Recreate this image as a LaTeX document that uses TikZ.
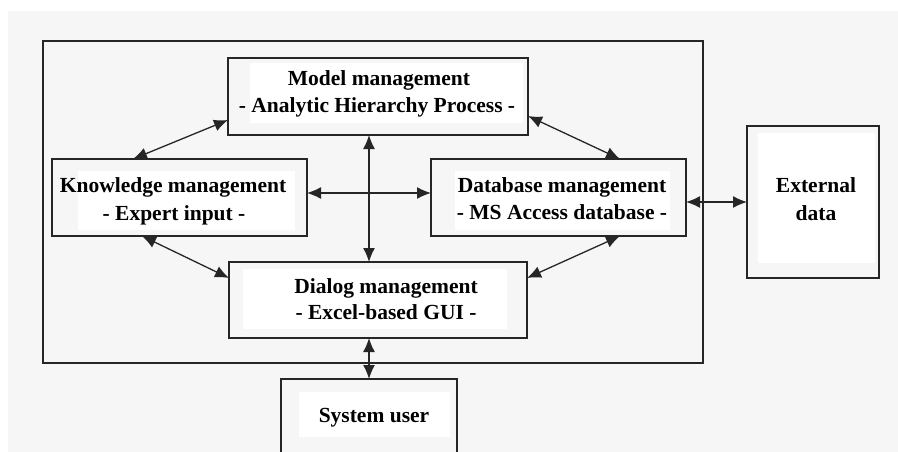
\documentclass[tikz,border=0pt]{standalone}
\usepackage{fontspec}
\setmainfont{Liberation Serif}
\usetikzlibrary{arrows.meta}
\definecolor{bg}{HTML}{F6F6F6}
\definecolor{ln}{HTML}{262626}
\begin{document}
\begin{tikzpicture}[x=1pt,y=-1pt,
  frm/.style={draw=ln, line width=1.2pt, inner sep=0, outer sep=0},
  box/.style={draw=ln, line width=1.4pt, fill=bg, inner sep=0, outer sep=0},
  pad/.style={fill=white, inner sep=0, outer sep=0},
  lbl/.style={anchor=base, font=\bfseries\fontsize{21.5}{27}\selectfont, inner sep=0},
  link/.style={{Latex[length=14pt,width=12pt]}-{Latex[length=14pt,width=12pt]}, line width=1.3pt, draw=ln}]
\useasboundingbox (0,0) rectangle (898,452);
\clip (0,0) rectangle (898,452);
\fill[bg] (8,11) rectangle (898,452);
% container frame
\node[frm, minimum width=660pt, minimum height=322pt] (frame) at (373,202) {};
% boxes
\node[box, minimum width=300pt, minimum height=77pt] (model) at (378,96.5) {};
\node[box, minimum width=255pt, minimum height=77pt] (know) at (179.5,197.5) {};
\node[box, minimum width=255pt, minimum height=77pt] (db) at (558.5,197.5) {};
\node[box, minimum width=132pt, minimum height=152pt] (ext) at (813,202) {};
\node[box, minimum width=298pt, minimum height=76pt] (dialog) at (378,300) {};
\node[box, minimum width=176pt, minimum height=91pt] (user) at (369,424.5) {};
% white text backgrounds
\node[pad, minimum width=273pt, minimum height=60pt] (mpad) at (386.5,93) {};
\node[pad, minimum width=217pt, minimum height=59pt] (kpad) at (186.5,200.5) {};
\node[pad, minimum width=215pt, minimum height=59pt] (dpad) at (562.5,200.5) {};
\node[pad, minimum width=117pt, minimum height=130pt] (epad) at (816.5,198) {};
\node[pad, minimum width=264pt, minimum height=60pt] (gpad) at (375,299) {};
\node[pad, minimum width=151pt, minimum height=45pt] (upad) at (374.5,414.5) {};
% labels
\node[lbl] (m1) at (379,86) {Model management};
\node[lbl] (m2) at (377,113) {- Analytic Hierarchy Process -};
\node[lbl] (k1) at (173,193) {Knowledge management};
\node[lbl] (k2) at (174,220) {- Expert input -};
\node[lbl] (d1) at (562,193) {Database management};
\node[lbl] (d2) at (562,219) {- MS Access database -};
\node[lbl] (e1) at (816,193) {External};
\node[lbl] (e2) at (816,220) {data};
\node[lbl] (g1) at (386,293) {Dialog management};
\node[lbl] (g2) at (386,319) {- Excel-based GUI -};
\node[lbl] (u1) at (374,422) {System user};
% connectors
\draw[link] ([yshift=15pt]model.south west) -- ([xshift=81pt]know.north west);
\draw[link] ([yshift=19pt]model.south east) -- ([xshift=-66pt]db.north east);
\draw[link] ([yshift=4.5pt]know.east) -- ([yshift=4.5pt]db.west);
\draw[link] ([xshift=-9pt]model.south) -- ([xshift=-9pt]dialog.north);
\draw[link] ([xshift=90pt]know.south west) -- ([yshift=22pt]dialog.west);
\draw[link] ([xshift=-66pt]db.south east) -- ([yshift=22pt]dialog.east);
\draw[link] ([xshift=-9pt]dialog.south) -- (user.north);
\draw[link] ([yshift=-4.5pt]db.east) -- (ext.west);
\end{tikzpicture}
\end{document}
